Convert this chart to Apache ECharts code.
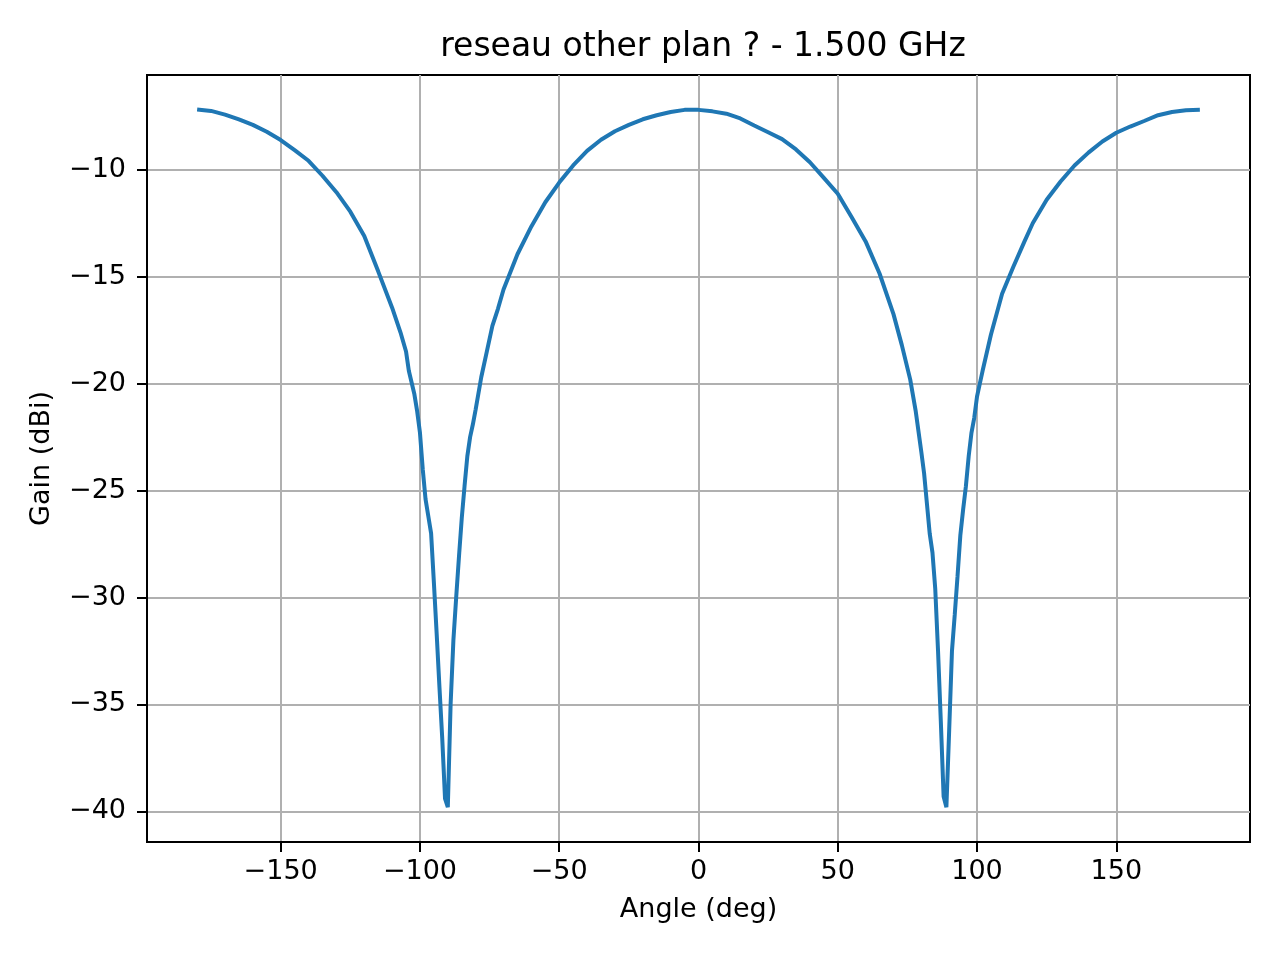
<!DOCTYPE html>
<html>
<head>
<meta charset="utf-8">
<title>reseau other plan</title>
<script src="https://cdn.jsdelivr.net/npm/echarts@6/dist/echarts.min.js"></script>
<style>
  html, body { margin: 0; padding: 0; background: #fff; }
  #chart { width: 1280px; height: 960px; }
</style>
</head>
<body>
<div id="chart"></div>
<script>
const angles = [
    -180, -175, -170, -165, -160, -155, -150, -145, -140, -135, -130, -125, -120, -115, -110, -107,
    -105, -104, -102, -101, -100, -99, -98, -97, -96, -95, -94, -93, -92, -91, -90, -89, -88, -87,
    -86, -85, -84, -83, -82, -81, -80, -78, -76, -74, -72, -70, -65, -60, -55, -50, -45, -40, -35,
    -30, -25, -20, -15, -10, -5, 0, 5, 10, 15, 20, 25, 30, 35, 40, 45, 50, 55, 60, 65, 70, 73, 76,
    78, 80, 81, 82, 83, 84, 85, 86, 87, 88, 89, 90, 91, 92, 93, 94, 95, 96, 97, 98, 99, 100, 101,
    102, 105, 109, 113, 117, 120, 125, 130, 135, 140, 145, 150, 155, 160, 165, 170, 175, 180
];
const gains = [
    -7.18, -7.25, -7.42, -7.65, -7.9, -8.22, -8.61, -9.08, -9.58, -10.28, -11.05, -11.96, -13.1, -14.75, -16.45, -17.6,
    -18.5, -19.4, -20.5, -21.3, -22.3, -24.0, -25.4, -26.2, -27.0, -29.3, -31.7, -34.2, -36.6, -39.4, -39.8, -35.0, -32.0, -30.0,
    -28.1, -26.3, -24.8, -23.4, -22.5, -21.9, -21.2, -19.7, -18.5, -17.3, -16.5, -15.6, -13.95, -12.65, -11.52, -10.6, -9.8, -9.12, -8.6,
    -8.2, -7.9, -7.64, -7.45, -7.3, -7.2, -7.2, -7.27, -7.38, -7.6, -7.93, -8.25, -8.57, -9.05, -9.65, -10.38, -11.12, -12.22, -13.35, -14.85, -16.75, -18.2, -19.8,
    -21.3, -23.2, -24.2, -25.6, -27.0, -27.9, -29.6, -32.5, -35.8, -39.3, -39.8, -36.2, -32.5, -30.8, -29.0, -27.1, -25.9, -24.8, -23.4, -22.3, -21.6, -20.6, -20.0,
    -19.4, -17.7, -15.8, -14.55, -13.36, -12.5, -11.4, -10.55, -9.8, -9.2, -8.68, -8.27, -7.98, -7.72, -7.45, -7.3, -7.22, -7.2
];
const xTicks = [-150, -100, -50, 0, 50, 100, 150];
const yTicks = [-40, -35, -30, -25, -20, -15, -10];

const font = 'DejaVu Sans';
const dom = document.getElementById('chart');
const myChart = echarts.init(dom, null, { renderer: 'canvas' });

const fmtMinus = v => String(v).replace('-', '\u2212');

const option = {
    backgroundColor: '#fff',
    animation: false,
    title: {
        text: 'reseau other plan ? - 1.500 GHz',
        left: 698,
        textAlign: 'center',
        top: 26,
        textStyle: { fontFamily: font, fontSize: 33, fontWeight: 'normal', color: '#000' }
    },
    grid: {
        left: 147, right: 30, top: 75, bottom: 118,
        show: true, borderColor: '#000', borderWidth: 2, backgroundColor: 'transparent'
    },
    xAxis: {
        type: 'value',
        min: -198,
        max: 198,
        name: 'Angle (deg)',
        nameLocation: 'middle',
        nameGap: 54,
        nameTextStyle: { fontFamily: font, fontSize: 27, color: '#000' },
        axisLine: { onZero: false, lineStyle: { color: '#000', width: 2 } },
        axisTick: { show: true, length: 10, lineStyle: { color: '#000', width: 2 }, customValues: xTicks },
        axisLabel: { customValues: xTicks, margin: 16, fontFamily: font, fontSize: 27, color: '#000', formatter: fmtMinus },
        splitLine: { show: true, lineStyle: { color: '#b0b0b0', width: 2 } }
    },
    yAxis: {
        type: 'value',
        min: -41.43,
        max: -5.57,
        name: 'Gain (dBi)',
        nameLocation: 'middle',
        nameGap: 92,
        nameRotate: 90,
        nameTextStyle: { fontFamily: font, fontSize: 27, color: '#000' },
        axisLine: { onZero: false, lineStyle: { color: '#000', width: 2 } },
        axisTick: { show: true, length: 10, lineStyle: { color: '#000', width: 2 }, customValues: yTicks },
        axisLabel: { customValues: yTicks, margin: 21, fontFamily: font, fontSize: 27, color: '#000', formatter: fmtMinus },
        splitLine: { show: true, lineStyle: { color: '#b0b0b0', width: 2 } }
    },
    series: [{
        type: 'line',
        data: angles.map((a, i) => [a, gains[i]]),
        showSymbol: false,
        smooth: false,
        lineStyle: { color: '#1f77b4', width: 4 },
        itemStyle: { color: '#1f77b4' },
        z: 3
    }]
};
myChart.setOption(option);
window.addEventListener('resize', () => myChart.resize());
</script>
</body>
</html>
